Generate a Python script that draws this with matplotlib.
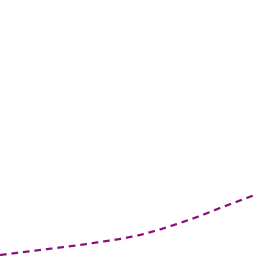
import matplotlib
matplotlib.use("Agg")
import matplotlib.pyplot as plt

# values
x = [0, 20, 40, 60, 80, 100, 120, 140, 160, 180, 200, 220, 240, 256]
y = [1.0, 3.5, 6.0, 8.5, 11.0, 14.0, 17.0, 21.0, 26.5, 33.0, 40.0, 48.0, 55.5, 61.5]

fig = plt.figure(figsize=(2.56, 2.56), dpi=100)
ax = fig.add_axes([0, 0, 1, 1])
ax.plot(x, y, '--', color='#8b0f7a', lw=1.6, dashes=(3, 2.2))
ax.set_xlim(0, 256)
ax.set_ylim(0, 256)
ax.axis('off')
fig.savefig('out.png', dpi=100)
